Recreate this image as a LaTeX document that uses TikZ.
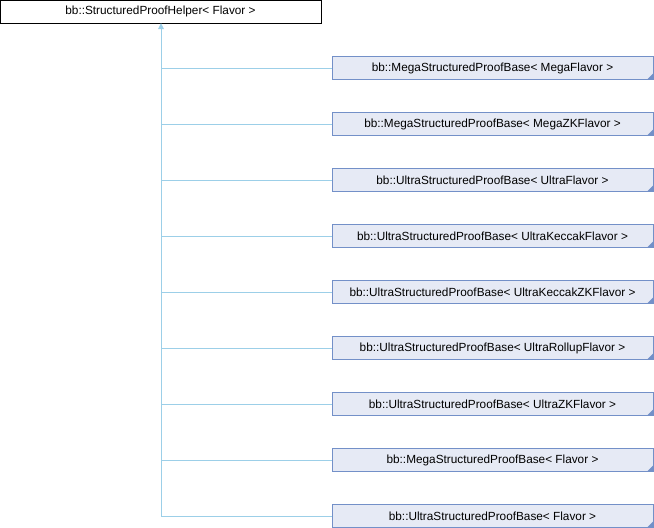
\documentclass[tikz,border=0pt]{standalone}
\usepackage{fontspec}
\setmainfont{Liberation Sans}
\definecolor{edgec}{HTML}{9CCFE8}
\definecolor{boxfill}{HTML}{E6EAF5}
\definecolor{boxline}{HTML}{7390C8}
\begin{document}
\begin{tikzpicture}[x=1pt,y=-1pt,
  base/.style={draw=black,fill=white,line width=1pt,minimum width=321pt,minimum height=23pt,inner sep=0pt,font=\fontsize{11.8}{14}\selectfont},
  child/.style={draw=boxline,fill=boxfill,line width=1pt,minimum width=321pt,minimum height=23pt,inner sep=0pt,font=\fontsize{11.8}{14}\selectfont},
  conn/.style={draw=edgec,line width=1pt},
  corner/.style={fill=boxline,draw=none}]
\useasboundingbox (0,0) rectangle (654,528);
\node[base] (p) at (160.5,11.5) {bb::StructuredProofHelper< Flavor >};
\foreach \i/\t in {1/{bb::MegaStructuredProofBase< MegaFlavor >},
                   2/{bb::MegaStructuredProofBase< MegaZKFlavor >},
                   3/{bb::UltraStructuredProofBase< UltraFlavor >},
                   4/{bb::UltraStructuredProofBase< UltraKeccakFlavor >},
                   5/{bb::UltraStructuredProofBase< UltraKeccakZKFlavor >},
                   6/{bb::UltraStructuredProofBase< UltraRollupFlavor >},
                   7/{bb::UltraStructuredProofBase< UltraZKFlavor >},
                   8/{bb::MegaStructuredProofBase< Flavor >},
                   9/{bb::UltraStructuredProofBase< Flavor >}}{
  \node[child] (c\i) at (492.5,{12+56*\i}) {\t};
  \fill[corner] ([xshift=-0.5pt,yshift=0.5pt]c\i.south east) -- ++(-6,0) -- ++(6,-6) -- cycle;
  \coordinate (j\i) at (161,{12+56*\i});
  \draw[conn] (j\i) -- (c\i.west);
}
\coordinate (top) at (161,29);
\draw[conn] (j9) -- (top);
\fill[edgec] (top) -- ++(-3,0) -- ++(3,-6) -- ++(3,6) -- cycle;
\end{tikzpicture}
\end{document}
